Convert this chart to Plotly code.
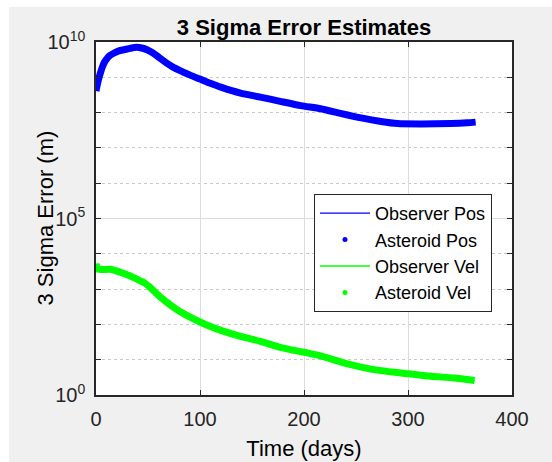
import plotly.graph_objects as go

# ---- data ----
pos_t = [0, 2, 4, 6, 8, 10, 13, 17, 22, 27, 33, 39, 44, 49, 54, 59, 62, 68, 74, 81,
         90, 100, 110, 120, 139, 158, 177, 197, 216, 235, 255, 274, 290, 313, 341, 357, 365]
pos_err = [4.07e8, 7.76e8, 1.26e9, 1.91e9, 2.63e9, 3.24e9, 4.07e9, 4.79e9, 5.62e9, 6.03e9,
           6.61e9, 7.08e9, 6.76e9, 6.03e9, 5.01e9, 3.98e9, 3.39e9, 2.51e9, 1.95e9, 1.55e9,
           1.17e9, 8.91e8, 6.76e8, 5.25e8, 3.55e8, 2.75e8, 2.09e8, 1.58e8, 1.29e8, 9.55e7,
           7.08e7, 5.62e7, 4.90e7, 4.79e7, 4.90e7, 5.13e7, 5.37e7]

vel_t = [0, 1, 2.5, 13.5, 23, 33, 42, 47, 52, 57, 62, 71, 81, 91, 100, 110, 120, 139,
         158, 177, 200, 216, 235, 255, 274, 301, 322, 344, 364]
vel_err = [5250, 3980, 3630, 3630, 3020, 2340, 1740, 1480, 1120, 813, 589, 363, 229, 158,
           117, 87.1, 67.6, 45.7, 33.1, 22.4, 16.2, 12.9, 8.71, 6.17, 4.90, 3.98, 3.39,
           3.02, 2.57]

x_ticks = [0, 100, 200, 300, 400]
y_major = [1, 1e5, 1e10]
y_major_text = ["10<sup>0</sup>", "10<sup>5</sup>", "10<sup>10</sup>"]
y_minor = [1e1, 1e2, 1e3, 1e4, 1e6, 1e7, 1e8, 1e9]

BLUE = "#0000ff"
GREEN = "#00ff00"
FONT = "Liberation Sans, Arial, sans-serif"
LW = 7

fig = go.Figure()
fig.add_trace(go.Scatter(x=pos_t, y=pos_err, mode="lines", name="Observer Pos",
                         line=dict(color=BLUE, width=1.3, shape="spline", smoothing=0.6),
                         legendgroup="a"))
fig.add_trace(go.Scatter(x=pos_t, y=pos_err, mode="lines", name="Asteroid Pos",
                         line=dict(color=BLUE, width=LW, shape="spline", smoothing=0.6),
                         showlegend=False, legendgroup="b"))
fig.add_trace(go.Scatter(x=[None], y=[None], mode="markers", name="Asteroid Pos",
                         marker=dict(color=BLUE, size=5), legendgroup="b"))
fig.add_trace(go.Scatter(x=vel_t, y=vel_err, mode="lines", name="Observer Vel",
                         line=dict(color=GREEN, width=1.3, shape="spline", smoothing=0.6),
                         legendgroup="c"))
fig.add_trace(go.Scatter(x=vel_t, y=vel_err, mode="lines", name="Asteroid Vel",
                         line=dict(color=GREEN, width=LW, shape="spline", smoothing=0.6),
                         showlegend=False, legendgroup="d"))
fig.add_trace(go.Scatter(x=[None], y=[None], mode="markers", name="Asteroid Vel",
                         marker=dict(color=GREEN, size=5), legendgroup="d"))

L, R, T, B = 96, 40, 42, 67
W, H = 552, 462
pw, ph = W - L - R, H - T - B

fig.update_layout(
    width=W, height=H,
    margin=dict(l=L, r=R, t=T, b=B),
    paper_bgcolor="white",
    plot_bgcolor="rgba(0,0,0,0)",
    font=dict(family=FONT, color="#262626", size=20),
    title=dict(text="<b>3 Sigma Error Estimates</b>", x=0.5, xref="paper",
               y=1 - 27 / H, yref="container", yanchor="middle",
               font=dict(size=22, color="black", family=FONT)),
    showlegend=True,
    legend=dict(x=(492 - L) / pw, xanchor="right", y=(H - B - 194) / ph, yanchor="top",
                bgcolor="white", bordercolor="#262626", borderwidth=1,
                font=dict(size=18, color="black", family=FONT),
                itemwidth=50, tracegroupgap=0),
    shapes=[
        dict(type="rect", xref="paper", yref="paper", layer="below",
             x0=(9 - L) / pw, x1=(W - L) / pw, y0=-B / ph, y1=(H - B - 7) / ph,
             fillcolor="#f0f0f0", line=dict(width=0)),
        dict(type="rect", xref="paper", yref="paper", layer="below",
             x0=0, x1=1, y0=0, y1=1, fillcolor="white", line=dict(width=0)),
    ],
    annotations=[
        dict(text="3 Sigma Error (m)", textangle=-90, showarrow=False,
             xref="paper", yref="paper", x=(45 - L) / pw, y=0.5,
             xanchor="center", yanchor="middle",
             font=dict(size=22, color="black", family=FONT)),
    ],
)

fig.update_xaxes(
    range=[0, 400], tickmode="array", tickvals=x_ticks, automargin=False,
    showgrid=True, gridcolor="#dcdcdc", gridwidth=1, zeroline=False,
    showline=True, linecolor="#262626", linewidth=1.5, mirror="ticks",
    ticks="inside", ticklen=5, tickcolor="#262626", ticklabelstandoff=5,
    tickfont=dict(size=20, color="#262626"),
    title=dict(text="Time (days)", font=dict(size=22, color="black"), standoff=12),
)
fig.update_yaxes(
    type="log", range=[0, 10], tickmode="array", tickvals=y_major, ticktext=y_major_text,
    automargin=False,
    showgrid=True, gridcolor="#dcdcdc", gridwidth=1, zeroline=False,
    showline=True, linecolor="#262626", linewidth=1.5, mirror="ticks",
    ticks="inside", ticklen=5, tickcolor="#262626", ticklabelstandoff=5,
    tickfont=dict(size=20, color="#262626"),
    minor=dict(tickmode="array", tickvals=y_minor, ticks="inside", ticklen=5,
               tickcolor="#262626", showgrid=True, griddash="dot", gridcolor="#c8c8c8"),
)

fig.write_html("out.html")
